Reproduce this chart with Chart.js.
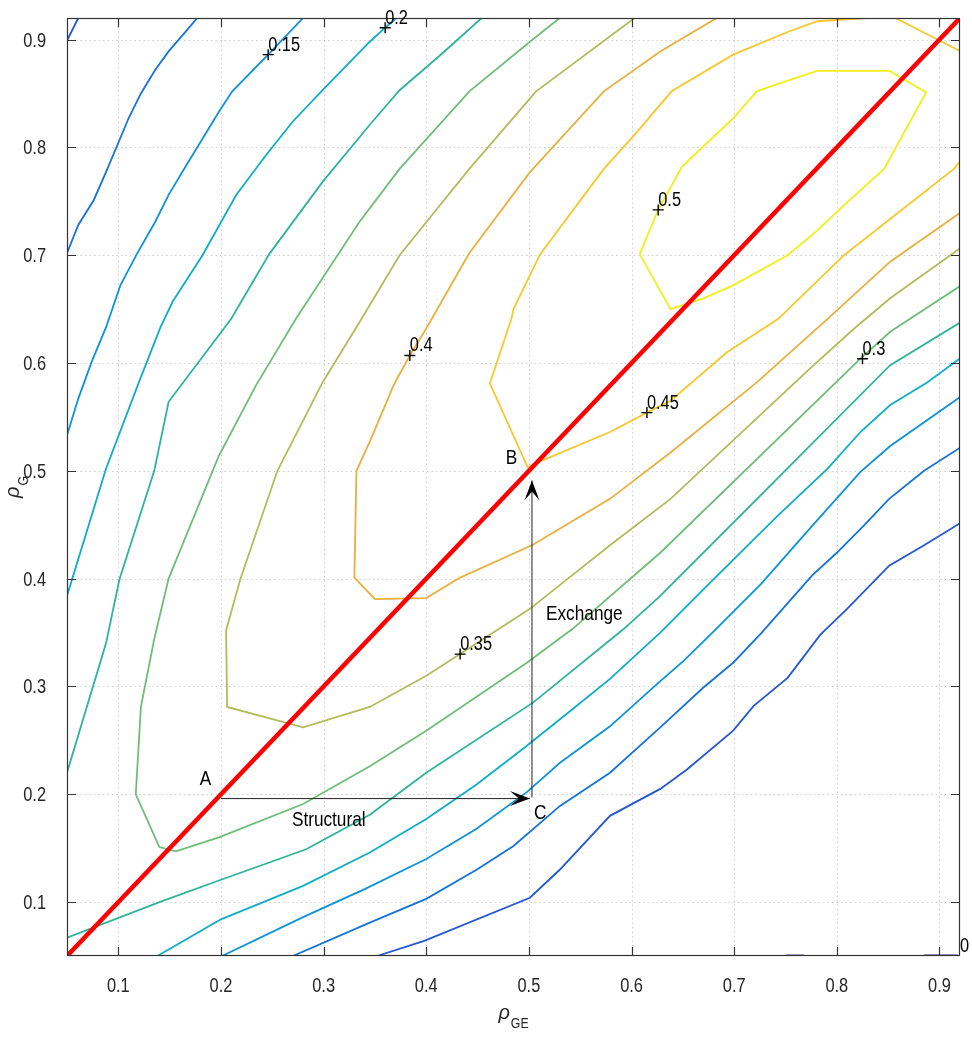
<!DOCTYPE html>
<html>
<head>
<meta charset="utf-8">
<title>rho_G vs rho_GE</title>
<script src="https://cdn.jsdelivr.net/npm/chart.js@4.4.0/dist/chart.umd.min.js"></script>
<style>
  html, body { margin: 0; padding: 0; background: #fff; }
  #wrap { width: 972px; height: 1045px; }
</style>
</head>
<body>
<div id="wrap"><canvas id="contourChart" width="972" height="1045"></canvas></div>
<script>
var FONT = "'Liberation Sans', Arial, sans-serif";
var NARROW = 0.82;   // horizontal squeeze for a Helvetica Narrow look

// axis ticks
var xTicks = [0.1, 0.2, 0.3, 0.4, 0.5, 0.6, 0.7, 0.8, 0.9];
var yTicks = [0.1, 0.2, 0.3, 0.4, 0.5, 0.6, 0.7, 0.8, 0.9];

// contour levels and their parula colours
var contourLevels = [0, 0.05, 0.1, 0.15, 0.2, 0.25, 0.3, 0.35, 0.4, 0.45, 0.5];
var levelColors = ['#352a87', '#2457d4', '#1474dc', '#0c93d9', '#0fadc9', '#2db49c',
                   '#6ebe79', '#b2bc5b', '#e8b03d', '#f7c82c', '#f3ef16'];

// contour segments, [rho_GE, rho_G]
var lvl000a = [[0.750, 0.0505], [0.768, 0.0505]];
var lvl000b = [[0.885, 0.0505], [0.918, 0.0505]];
var lvl005a = [[0.05, 0.899], [0.061, 0.92]];
var lvl005b = [[0.352, 0.05], [0.398, 0.064], [0.501, 0.104], [0.530, 0.130], [0.579, 0.180],
               [0.628, 0.205], [0.654, 0.223], [0.699, 0.259], [0.719, 0.282], [0.752, 0.308],
               [0.784, 0.348], [0.810, 0.372], [0.851, 0.412], [0.885, 0.431], [0.921, 0.452]];
var lvl010a = [[0.177, 0.92], [0.149, 0.889], [0.136, 0.872], [0.122, 0.850], [0.110, 0.827],
               [0.099, 0.802], [0.088, 0.777], [0.076, 0.751], [0.061, 0.728], [0.05, 0.702]];
var lvl010b = [[0.270, 0.05], [0.345, 0.081], [0.400, 0.103], [0.449, 0.130], [0.485, 0.152],
               [0.530, 0.189], [0.579, 0.220], [0.628, 0.262], [0.670, 0.299], [0.699, 0.322],
               [0.726, 0.349], [0.750, 0.375], [0.776, 0.403], [0.800, 0.424], [0.826, 0.449],
               [0.851, 0.474], [0.885, 0.500], [0.921, 0.522]];
var lvl015a = [[0.280, 0.92], [0.246, 0.886], [0.211, 0.852], [0.198, 0.833], [0.182, 0.808],
               [0.166, 0.783], [0.149, 0.756], [0.136, 0.731], [0.118, 0.701], [0.102, 0.672],
               [0.088, 0.633], [0.074, 0.601], [0.061, 0.567], [0.05, 0.533]];
var lvl015b = [[0.201, 0.05], [0.280, 0.086], [0.340, 0.112], [0.400, 0.140], [0.449, 0.168],
               [0.498, 0.202], [0.530, 0.229], [0.579, 0.263], [0.628, 0.305], [0.651, 0.324],
               [0.682, 0.353], [0.726, 0.395], [0.776, 0.449], [0.823, 0.499], [0.852, 0.523],
               [0.921, 0.569]];
var lvl020a = [[0.371, 0.92], [0.360, 0.911], [0.345, 0.898], [0.299, 0.853], [0.270, 0.824],
               [0.244, 0.793], [0.215, 0.756], [0.182, 0.700], [0.153, 0.657], [0.141, 0.633],
               [0.120, 0.582], [0.088, 0.502], [0.05, 0.384]];
var lvl020b = [[0.138, 0.05], [0.200, 0.084], [0.280, 0.115], [0.345, 0.146], [0.400, 0.177],
               [0.449, 0.209], [0.498, 0.245], [0.540, 0.277], [0.579, 0.307], [0.628, 0.350],
               [0.670, 0.390], [0.742, 0.458], [0.791, 0.502], [0.823, 0.536], [0.852, 0.561],
               [0.888, 0.582], [0.921, 0.605]];
var lvl025a = [[0.454, 0.92], [0.413, 0.885], [0.374, 0.853], [0.345, 0.821], [0.299, 0.768],
               [0.247, 0.701], [0.210, 0.641], [0.149, 0.564], [0.135, 0.500], [0.101, 0.399],
               [0.088, 0.340], [0.05, 0.220]];
var lvl025b = [[0.05, 0.067], [0.140, 0.100], [0.198, 0.120], [0.283, 0.149], [0.345, 0.181],
               [0.400, 0.220], [0.504, 0.285], [0.592, 0.353], [0.628, 0.384], [0.740, 0.491],
               [0.852, 0.598], [0.921, 0.638]];
var lvl030 = [[0.530, 0.92], [0.501, 0.898], [0.442, 0.852], [0.374, 0.780], [0.335, 0.731],
              [0.273, 0.641], [0.234, 0.579], [0.198, 0.514], [0.149, 0.400], [0.135, 0.344],
              [0.122, 0.281], [0.117, 0.200], [0.140, 0.151], [0.156, 0.147], [0.198, 0.160],
              [0.280, 0.191], [0.345, 0.226], [0.400, 0.259], [0.498, 0.322], [0.542, 0.353],
              [0.628, 0.424], [0.823, 0.604], [0.852, 0.629], [0.921, 0.672]];
var lvl035 = [[0.603, 0.92], [0.507, 0.852], [0.442, 0.780], [0.374, 0.700], [0.337, 0.641],
              [0.299, 0.582], [0.255, 0.500], [0.219, 0.400], [0.205, 0.352], [0.206, 0.281],
              [0.280, 0.262], [0.345, 0.281], [0.400, 0.310], [0.433, 0.330], [0.501, 0.372],
              [0.579, 0.431], [0.638, 0.474], [0.774, 0.595], [0.817, 0.632], [0.852, 0.660],
              [0.921, 0.707]];
var lvl040 = [[0.683, 0.92], [0.628, 0.889], [0.573, 0.852], [0.501, 0.777], [0.442, 0.702],
              [0.400, 0.632], [0.384, 0.607], [0.369, 0.581], [0.345, 0.527], [0.332, 0.500],
              [0.330, 0.401], [0.350, 0.381], [0.400, 0.382], [0.433, 0.401], [0.503, 0.431],
              [0.579, 0.474], [0.638, 0.517], [0.722, 0.582], [0.791, 0.641], [0.852, 0.694],
              [0.921, 0.740]];
var lvl045a = [[0.921, 0.788], [0.914, 0.780], [0.807, 0.700], [0.743, 0.641], [0.693, 0.610],
               [0.638, 0.565], [0.615, 0.554], [0.579, 0.536], [0.504, 0.506], [0.499, 0.503],
               [0.462, 0.581], [0.483, 0.641], [0.485, 0.650], [0.511, 0.701], [0.573, 0.780],
               [0.605, 0.814], [0.639, 0.852], [0.699, 0.886], [0.752, 0.907], [0.781, 0.917],
               [0.830, 0.92]];
var lvl045b = [[0.857, 0.92], [0.921, 0.889]];
var lvl050 = [[0.608, 0.701], [0.625, 0.740], [0.649, 0.782], [0.699, 0.827], [0.722, 0.852],
              [0.752, 0.862], [0.781, 0.871], [0.851, 0.871], [0.887, 0.851], [0.846, 0.780],
              [0.810, 0.749], [0.781, 0.723], [0.752, 0.700], [0.699, 0.672], [0.670, 0.660],
              [0.638, 0.650], [0.608, 0.701]];

// clabel positions and texts
var labelText = ['0', '0.15', '0.2', '0.3', '0.35', '0.4', '0.45', '0.5'];
var labelAt = [[0.92, 0.05], [0.246, 0.886], [0.360, 0.911], [0.825, 0.604],
               [0.433, 0.330], [0.384, 0.607], [0.615, 0.554], [0.626, 0.742]];

// equal-correlation diagonal
var diagonal = [[0.05, 0.05], [0.92, 0.92]];

// A -> C (structural) and C -> B (exchange)
var structuralPath = [[0.2, 0.196], [0.501, 0.196]];
var exchangePath = [[0.503, 0.197], [0.503, 0.491]];

// text notes: centre x, baseline y
var noteText = ['A', 'B', 'C', 'Structural', 'Exchange'];
var noteAt = [[0.185, 0.209], [0.483, 0.506], [0.511, 0.177], [0.305, 0.171], [0.554, 0.362]];

function pts(arr) {
  return arr.map(function(p) { return { x: p[0], y: p[1] }; });
}

function contour(level, arr) {
  return {
    label: 'level ' + level,
    data: pts(arr),
    showLine: true,
    borderColor: levelColors[contourLevels.indexOf(level)],
    borderWidth: 1.8,
    pointRadius: 0,
    tension: 0,
    fill: false,
    order: 3
  };
}

// squeezed text, (x, y) is the anchor on the baseline
function narrowText(ctx, text, x, y, size, align) {
  ctx.save();
  ctx.translate(x, y);
  ctx.scale(NARROW, 1);
  ctx.font = size + 'px ' + FONT;
  ctx.textAlign = align;
  ctx.textBaseline = 'alphabetic';
  ctx.fillText(text, 0, 0);
  ctx.restore();
}

function narrowWidth(ctx, text, size) {
  ctx.font = size + 'px ' + FONT;
  return ctx.measureText(text).width * NARROW;
}

function arrowHead(ctx, tipX, tipY, fromX, fromY) {
  var dx = tipX - fromX, dy = tipY - fromY;
  var len = Math.sqrt(dx * dx + dy * dy);
  var ux = dx / len, uy = dy / len, nx = -uy, ny = ux;
  var L = 20, W = 7.5, N = 11;
  ctx.beginPath();
  ctx.moveTo(tipX, tipY);
  ctx.lineTo(tipX - L * ux + W * nx, tipY - L * uy + W * ny);
  ctx.lineTo(tipX - N * ux, tipY - N * uy);
  ctx.lineTo(tipX - L * ux - W * nx, tipY - L * uy - W * ny);
  ctx.closePath();
  ctx.fill();
}

// rho with a subscript; x is the left end, y the baseline of rho
var RHO_FONT = 'italic 20px "Liberation Sans", Arial, sans-serif';
function rhoWidth(ctx, sub) {
  ctx.font = RHO_FONT;
  return ctx.measureText('\u03c1').width + 1 + narrowWidth(ctx, sub, 15);
}
function rhoLabel(ctx, sub, x, y) {
  ctx.font = RHO_FONT;
  ctx.textAlign = 'left';
  ctx.textBaseline = 'alphabetic';
  var w1 = ctx.measureText('\u03c1').width;
  ctx.fillText('\u03c1', x, y);
  narrowText(ctx, sub, x + w1 + 1, y + 9, 15, 'left');
}

var axesFrame = {
  id: 'axesFrame',
  beforeDatasetsDraw: function(chart) {
    var ctx = chart.ctx, a = chart.chartArea;
    var xs = chart.scales.x, ys = chart.scales.y;
    ctx.save();
    ctx.strokeStyle = 'rgba(38,38,38,0.22)';
    ctx.lineWidth = 1;
    ctx.setLineDash([1.5, 3]);
    xTicks.forEach(function(v) {
      var px = Math.round(xs.getPixelForValue(v)) + 0.5;
      ctx.beginPath(); ctx.moveTo(px, a.top); ctx.lineTo(px, a.bottom); ctx.stroke();
    });
    yTicks.forEach(function(v) {
      var py = Math.round(ys.getPixelForValue(v)) + 0.5;
      ctx.beginPath(); ctx.moveTo(a.left, py); ctx.lineTo(a.right, py); ctx.stroke();
    });
    ctx.restore();
  },
  afterDatasetsDraw: function(chart) {
    var ctx = chart.ctx, a = chart.chartArea;
    var xs = chart.scales.x, ys = chart.scales.y;
    ctx.save();

    // box with inward ticks on all four sides
    ctx.strokeStyle = '#333';
    ctx.lineWidth = 1.2;
    ctx.strokeRect(a.left + 0.5, a.top + 0.5, a.right - a.left - 1, a.bottom - a.top - 1);
    ctx.beginPath();
    xTicks.forEach(function(v) {
      var px = Math.round(xs.getPixelForValue(v)) + 0.5;
      ctx.moveTo(px, a.bottom); ctx.lineTo(px, a.bottom - 9);
      ctx.moveTo(px, a.top); ctx.lineTo(px, a.top + 9);
    });
    yTicks.forEach(function(v) {
      var py = Math.round(ys.getPixelForValue(v)) + 0.5;
      ctx.moveTo(a.left, py); ctx.lineTo(a.left + 9, py);
      ctx.moveTo(a.right, py); ctx.lineTo(a.right - 9, py);
    });
    ctx.stroke();

    // tick labels
    ctx.fillStyle = '#262626';
    xTicks.forEach(function(v) {
      narrowText(ctx, v.toFixed(1), xs.getPixelForValue(v), a.bottom + 36, 20, 'center');
    });
    yTicks.forEach(function(v) {
      narrowText(ctx, v.toFixed(1), a.left - 21, ys.getPixelForValue(v) + 7, 20, 'right');
    });

    // arrowheads
    ctx.fillStyle = '#000';
    arrowHead(ctx, xs.getPixelForValue(structuralPath[1][0]), ys.getPixelForValue(structuralPath[1][1]),
              xs.getPixelForValue(structuralPath[0][0]), ys.getPixelForValue(structuralPath[0][1]));
    arrowHead(ctx, xs.getPixelForValue(exchangePath[1][0]), ys.getPixelForValue(exchangePath[1][1]),
              xs.getPixelForValue(exchangePath[0][0]), ys.getPixelForValue(exchangePath[0][1]));

    // contour level labels
    labelText.forEach(function(t, i) {
      narrowText(ctx, t, xs.getPixelForValue(labelAt[i][0]), ys.getPixelForValue(labelAt[i][1]) - 4, 20, 'left');
    });

    // notes
    noteText.forEach(function(t, i) {
      narrowText(ctx, t, xs.getPixelForValue(noteAt[i][0]), ys.getPixelForValue(noteAt[i][1]), 21, 'center');
    });
    ctx.restore();
  },
  afterDraw: function(chart) {
    var ctx = chart.ctx, a = chart.chartArea;
    ctx.save();
    ctx.fillStyle = '#262626';
    var cx = (a.left + a.right) / 2;
    var w = rhoWidth(ctx, 'GE');
    rhoLabel(ctx, 'GE', cx - w / 2, 1019);

    var cy = (a.top + a.bottom) / 2;
    w = rhoWidth(ctx, 'G');
    ctx.translate(19, cy);
    ctx.rotate(-Math.PI / 2);
    rhoLabel(ctx, 'G', -w / 2, 0);
    ctx.restore();
  }
};

var datasets = [
  contour(0, lvl000a), contour(0, lvl000b),
  contour(0.05, lvl005a), contour(0.05, lvl005b),
  contour(0.1, lvl010a), contour(0.1, lvl010b),
  contour(0.15, lvl015a), contour(0.15, lvl015b),
  contour(0.2, lvl020a), contour(0.2, lvl020b),
  contour(0.25, lvl025a), contour(0.25, lvl025b),
  contour(0.3, lvl030),
  contour(0.35, lvl035),
  contour(0.4, lvl040),
  contour(0.45, lvl045a), contour(0.45, lvl045b),
  contour(0.5, lvl050),
  {
    label: 'diagonal',
    data: pts(diagonal),
    showLine: true,
    borderColor: '#ff0000',
    borderWidth: 4.5,
    pointRadius: 0,
    order: 2
  },
  {
    label: 'Structural',
    data: pts(structuralPath),
    showLine: true,
    borderColor: '#222',
    borderWidth: 1,
    pointRadius: 0,
    order: 1
  },
  {
    label: 'Exchange',
    data: pts(exchangePath),
    showLine: true,
    borderColor: '#222',
    borderWidth: 1,
    pointRadius: 0,
    order: 1
  },
  {
    label: 'clabels',
    data: pts(labelAt),
    showLine: false,
    pointStyle: 'cross',
    pointRadius: 5.5,
    borderColor: '#000',
    borderWidth: 1.4,
    order: 0
  }
];

function noScalePadding(s) {
  s.paddingTop = 0;
  s.paddingBottom = 0;
  s.paddingLeft = 0;
  s.paddingRight = 0;
}

new Chart(document.getElementById('contourChart'), {
  type: 'scatter',
  data: { datasets: datasets },
  plugins: [axesFrame],
  options: {
    responsive: false,
    devicePixelRatio: 1,
    animation: false,
    events: [],
    layout: { padding: { top: 18, right: 12, left: 0, bottom: 0 } },
    plugins: {
      legend: { display: false },
      tooltip: { enabled: false }
    },
    scales: {
      x: {
        type: 'linear',
        min: 0.05,
        max: 0.92,
        bounds: 'data',
        grid: { display: false, drawTicks: false },
        border: { display: false },
        ticks: { display: false },
        afterBuildTicks: function(s) { s.ticks = xTicks.map(function(v) { return { value: v }; }); },
        afterFit: function(s) { s.height = 89; noScalePadding(s); }
      },
      y: {
        type: 'linear',
        min: 0.05,
        max: 0.92,
        bounds: 'data',
        grid: { display: false, drawTicks: false },
        border: { display: false },
        ticks: { display: false },
        afterBuildTicks: function(s) { s.ticks = yTicks.map(function(v) { return { value: v }; }); },
        afterFit: function(s) { s.width = 67; noScalePadding(s); }
      }
    }
  }
});
</script>
</body>
</html>
